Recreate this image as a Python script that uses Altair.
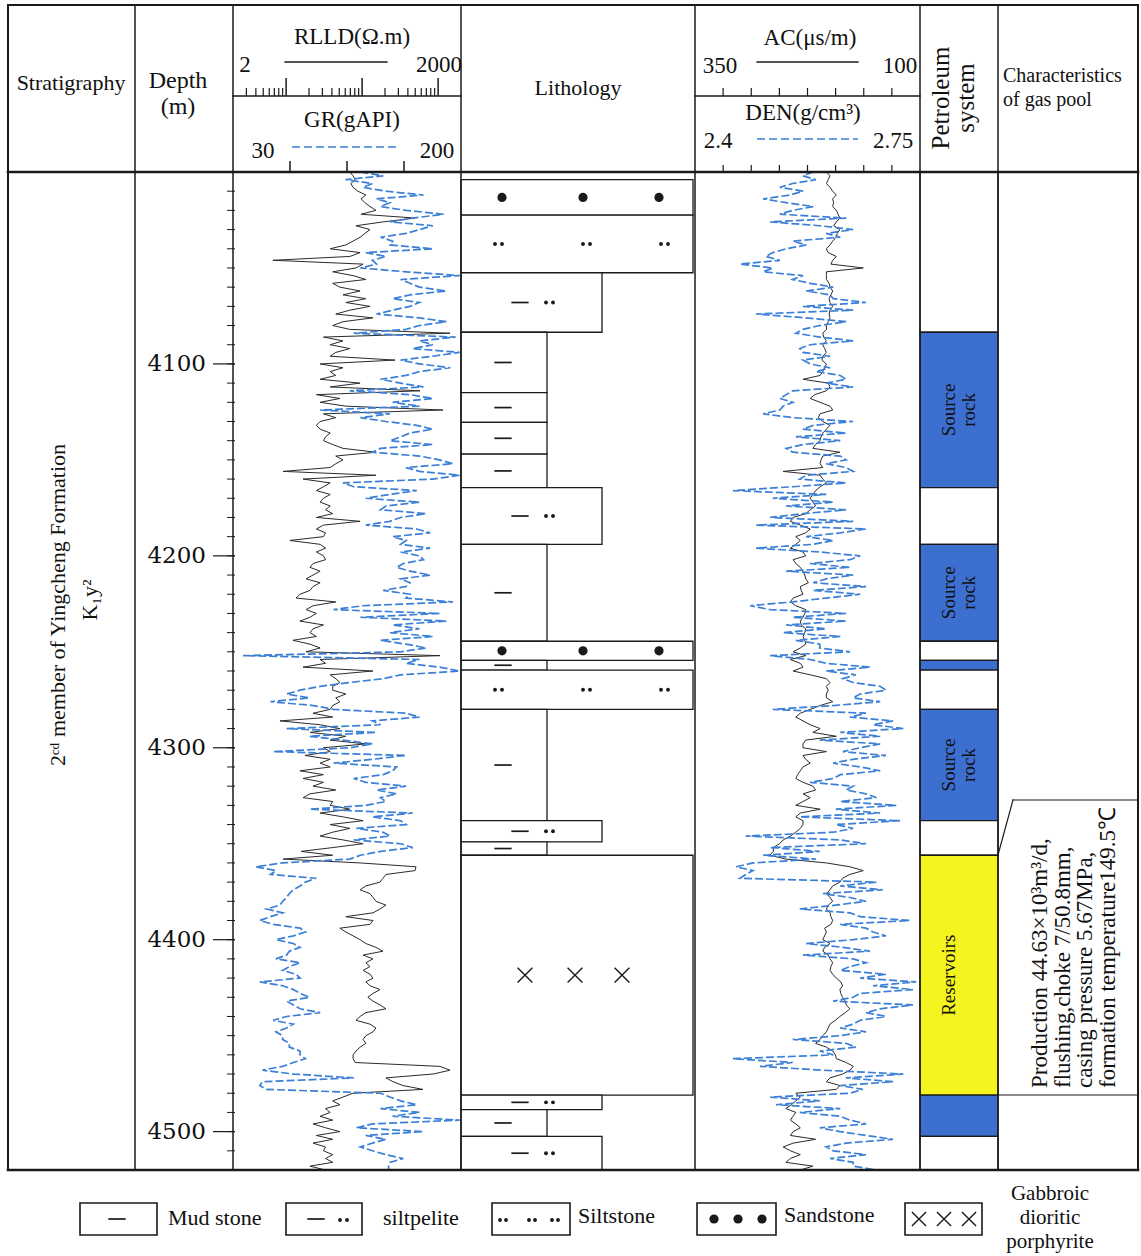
import altair as alt
import pandas as pd

SERIF = "Liberation Serif"

# ---------------- data ----------------
depth = list(range(4000, 4522, 2))  # sample depths (m)

rlld = [69, 76, 81, 71, 76, 88, 112, 97, 109, 127,
        152, 97, 497, 188, 83, 127, 109, 94, 76, 61,
        38, 94, 69, 6.7, 103, 83, 41, 76, 112, 41,
        51, 94, 56, 112, 61, 127, 69, 45, 139, 56,
        41, 69, 1432, 31, 56, 38, 69, 45, 38, 271,
        28, 56, 38, 45, 28, 94, 38, 578, 25, 51,
        28, 61, 1159, 31, 45, 28, 25, 28, 38, 33,
        31, 41, 56, 152, 45, 56, 45, 38, 9.1, 152,
        16.7, 38, 31, 25, 38, 31, 28, 38, 33, 41,
        25, 94, 31, 25, 33, 31, 11.2, 28, 33, 25,
        31, 33, 22.6, 20.6, 28, 22.6, 18.3, 28, 22.6, 20.6,
        15.2, 13.5, 45, 22.6, 18.3, 25, 20.6, 15.2, 31, 22.6,
        20.6, 25, 12.3, 20.6, 28, 18.3, 1059, 28, 33, 16.7,
        139, 38, 45, 51, 41, 41, 61, 45, 51, 41,
        38, 22.6, 41, 8.3, 28, 51, 20.6, 61, 38, 112,
        31, 38, 17.7, 38, 28, 38, 15.2, 31, 16.7, 31,
        22.6, 45, 20.6, 16.7, 41, 38, 69, 28, 56, 103,
        38, 69, 41, 28, 56, 103, 41, 15.7, 41, 9.1,
        94, 512, 497, 206, 188, 172, 112, 94, 127, 139,
        152, 206, 172, 139, 61, 139, 127, 51, 61, 76,
        94, 112, 152, 188, 103, 139, 112, 127, 103, 127,
        139, 112, 127, 172, 139, 119, 139, 172, 206, 112,
        94, 83, 127, 152, 139, 112, 103, 112, 94, 83,
        76, 76, 81, 1059, 1432, 857, 206, 255, 345, 632,
        76, 56, 41, 51, 33, 38, 28, 41, 22.6, 33,
        51, 25, 41, 22.6, 33, 31, 41, 33, 41, 20.6, 33]

gr = [125, 142, 114, 134, 127, 144, 172, 137, 147, 140,
      159, 187, 164, 147, 179, 169, 159, 140, 149, 147,
      179, 129, 144, 134, 137, 125, 159, 199, 155, 162,
      169, 189, 162, 149, 169, 162, 149, 137, 169, 189,
      169, 159, 120, 196, 169, 179, 164, 199, 179, 155,
      169, 192, 169, 159, 140, 155, 172, 117, 162, 179,
      149, 169, 95, 147, 125, 144, 167, 179, 162, 155,
      147, 179, 140, 134, 169, 184, 194, 159, 169, 199,
      179, 112, 120, 167, 147, 129, 169, 144, 140, 174,
      155, 147, 129, 167, 177, 149, 159, 155, 177, 155,
      169, 172, 157, 152, 162, 177, 155, 162, 159, 142,
      162, 159, 194, 127, 105, 184, 125, 189, 149, 169,
      147, 179, 140, 159, 174, 155, 37.5, 169, 159, 184,
      199, 155, 142, 117, 95, 80, 70, 87, 58, 90,
      105, 159, 169, 134, 140, 70, 137, 87, 112, 134,
      117, 60, 159, 134, 105, 152, 149, 142, 120, 129,
      159, 137, 152, 140, 144, 129, 87, 164, 134, 155,
      159, 122, 142, 147, 120, 155, 164, 140, 125, 117,
      67, 47, 62, 58, 92, 84, 80, 75, 72, 70,
      67, 65, 55, 67, 58, 50, 60, 80, 84, 75,
      62, 75, 80, 72, 70, 62, 80, 72, 67, 77,
      80, 50, 67, 75, 80, 87, 70, 75, 80, 95,
      70, 60, 75, 70, 62, 67, 67, 72, 72, 80,
      80, 84, 75, 67, 52, 75, 120, 52, 50, 55,
      140, 147, 155, 167, 140, 169, 149, 199, 134, 122,
      172, 129, 144, 134, 125, 134, 144, 157, 147, 146, 146]

ac = [204, 200, 202, 204, 200, 197, 193, 197, 196, 197,
      193, 191, 189, 193, 196, 189, 192, 193, 197, 200,
      204, 202, 193, 197, 199, 163, 204, 204, 204, 201,
      200, 197, 199, 201, 200, 197, 200, 201, 200, 202,
      204, 204, 208, 207, 204, 208, 206, 204, 208, 209,
      204, 206, 208, 211, 230, 202, 200, 204, 217, 222,
      211, 200, 197, 211, 213, 208, 200, 204, 208, 210,
      211, 216, 219, 189, 208, 210, 211, 208, 252, 211,
      208, 204, 211, 216, 219, 222, 219, 216, 222, 227,
      241, 244, 233, 222, 227, 238, 233, 238, 244, 230,
      227, 241, 238, 233, 230, 228, 227, 224, 233, 232,
      230, 241, 244, 238, 227, 228, 230, 233, 232, 227,
      228, 230, 228, 227, 233, 241, 227, 244, 233, 230,
      241, 222, 204, 200, 204, 202, 204, 204, 197, 211,
      222, 233, 238, 230, 222, 211, 219, 193, 227, 230,
      230, 204, 230, 227, 222, 230, 233, 236, 238, 230,
      219, 216, 230, 222, 230, 238, 211, 233, 238, 230,
      230, 233, 238, 244, 252, 256, 263, 263, 267, 249,
      204, 178, 163, 178, 186, 189, 197, 200, 204, 200,
      197, 202, 204, 200, 199, 197, 199, 206, 204, 206,
      208, 200, 206, 208, 202, 200, 197, 199, 200, 197,
      193, 188, 186, 189, 188, 186, 183, 182, 178, 183,
      189, 194, 200, 202, 204, 208, 211, 216, 204, 197,
      194, 193, 182, 174, 178, 186, 200, 204, 189, 193,
      238, 233, 238, 243, 249, 238, 241, 244, 238, 233,
      241, 244, 216, 241, 252, 244, 233, 244, 249, 219, 233]

den = [2.584, 2.568, 2.588, 2.552, 2.532, 2.568, 2.548, 2.506, 2.542, 2.584,
       2.552, 2.532, 2.635, 2.517, 2.594, 2.646, 2.604, 2.626, 2.552, 2.573,
       2.542, 2.521, 2.510, 2.532, 2.470, 2.521, 2.506, 2.568, 2.552, 2.579,
       2.615, 2.573, 2.610, 2.615, 2.666, 2.568, 2.646, 2.495, 2.573, 2.635,
       2.594, 2.568, 2.557, 2.594, 2.646, 2.579, 2.563, 2.568, 2.610, 2.568,
       2.579, 2.610, 2.588, 2.626, 2.635, 2.604, 2.646, 2.552, 2.542, 2.532,
       2.552, 2.537, 2.532, 2.506, 2.552, 2.646, 2.584, 2.568, 2.635, 2.557,
       2.626, 2.568, 2.542, 2.552, 2.626, 2.635, 2.604, 2.635, 2.646, 2.573,
       2.563, 2.635, 2.552, 2.459, 2.604, 2.521, 2.615, 2.542, 2.635, 2.568,
       2.517, 2.646, 2.495, 2.666, 2.626, 2.573, 2.615, 2.584, 2.495, 2.594,
       2.657, 2.641, 2.579, 2.641, 2.542, 2.646, 2.604, 2.584, 2.666, 2.584,
       2.657, 2.604, 2.552, 2.486, 2.517, 2.635, 2.552, 2.635, 2.542, 2.604,
       2.537, 2.626, 2.557, 2.594, 2.594, 2.641, 2.517, 2.579, 2.604, 2.672,
       2.604, 2.650, 2.630, 2.646, 2.688, 2.697, 2.657, 2.646, 2.688, 2.615,
       2.521, 2.666, 2.641, 2.708, 2.677, 2.724, 2.626, 2.688, 2.594, 2.688,
       2.657, 2.630, 2.697, 2.646, 2.615, 2.657, 2.688, 2.626, 2.615, 2.579,
       2.646, 2.635, 2.666, 2.682, 2.626, 2.713, 2.619, 2.688, 2.563, 2.719,
       2.619, 2.646, 2.615, 2.479, 2.626, 2.666, 2.517, 2.594, 2.506, 2.588,
       2.490, 2.464, 2.490, 2.479, 2.470, 2.682, 2.626, 2.692, 2.599, 2.641,
       2.666, 2.619, 2.563, 2.641, 2.657, 2.734, 2.626, 2.666, 2.677, 2.697,
       2.646, 2.573, 2.630, 2.672, 2.568, 2.646, 2.666, 2.641, 2.626, 2.697,
       2.657, 2.744, 2.677, 2.739, 2.657, 2.646, 2.615, 2.739, 2.688, 2.666,
       2.697, 2.657, 2.646, 2.626, 2.666, 2.626, 2.552, 2.635, 2.650, 2.594,
       2.615, 2.459, 2.552, 2.501, 2.599, 2.724, 2.635, 2.708, 2.626, 2.661,
       2.641, 2.517, 2.594, 2.526, 2.626, 2.563, 2.626, 2.641, 2.666, 2.594,
       2.626, 2.666, 2.708, 2.635, 2.604, 2.615, 2.666, 2.610, 2.646, 2.646, 2.682]

assert len(rlld) == len(gr) == len(ac) == len(den) == len(depth), (len(rlld), len(gr), len(ac), len(den))

# lithology column
lith_top = [4004.0, 4022.5, 4052.5, 4083.5, 4115.0, 4130.5, 4147.0, 4164.5, 4194.0, 4244.5,
            4254.5, 4259.5, 4280.0, 4338.0, 4349.0, 4356.0, 4481.0, 4488.5, 4502.5]
lith_base = [4022.5, 4052.5, 4083.5, 4115.0, 4130.5, 4147.0, 4164.5, 4194.0, 4244.5, 4254.5,
             4259.5, 4280.0, 4338.0, 4349.0, 4356.0, 4481.0, 4488.5, 4502.5, 4520.0]
lith_type = ["sandstone", "siltstone", "siltpelite", "mudstone", "mudstone", "mudstone", "mudstone",
             "siltpelite", "mudstone", "sandstone", "mudstone", "siltstone", "mudstone", "siltpelite",
             "mudstone", "gabbro", "siltpelite", "mudstone", "siltpelite"]

# petroleum system column
ps_top = [4000.0, 4083.5, 4164.5, 4194.0, 4244.5, 4254.5, 4259.5, 4280.0, 4338.0, 4356.0, 4481.0, 4502.5]
ps_base = [4083.5, 4164.5, 4194.0, 4244.5, 4254.5, 4259.5, 4280.0, 4338.0, 4356.0, 4481.0, 4502.5, 4520.0]
ps_type = ["none", "source", "none", "source", "none", "source", "none", "source", "none",
           "reservoir", "source", "none"]
ps_label = ["", "Source\nrock", "", "Source\nrock", "", "", "", "Source\nrock", "", "Reservoirs", "", ""]

depth_major = [4100, 4200, 4300, 4400, 4500]
depth_minor = list(range(4010, 4520, 10))

rlld_ticks_minor = [3, 4, 5, 6, 7, 8, 9, 20, 30, 40, 50, 60, 70, 80, 90,
                    200, 300, 400, 500, 600, 700, 800, 900]
rlld_ticks_major = [10, 100, 1000]
gr_ticks = [72.5, 115, 157.5]
ac_ticks = [318.75, 287.5, 256.25, 225, 193.75, 162.5, 131.25]
den_ticks = [2.44375, 2.4875, 2.53125, 2.575, 2.61875, 2.6625, 2.70625]

# ---------------- styles / layout ----------------
INK = "#1a1a1a"
CURVE_BLACK = "#2b2b2b"
CURVE_BLUE = "#3b7fd6"
SRC_BLUE = "#3d6fd1"
RES_YELLOW = "#f4f41e"
Y_TOP, Y_BOT = 172, 1170

ysc = alt.Scale(domain=[4000, 4520], range=[Y_TOP, Y_BOT], nice=False, zero=False)
rlld_sc = alt.Scale(type="log", domain=[2, 2000], range=[233, 461], nice=False)
gr_sc = alt.Scale(domain=[30, 200], range=[233, 461], nice=False, zero=False)
ac_sc = alt.Scale(domain=[350, 100], range=[695, 920], nice=False, zero=False)
den_sc = alt.Scale(domain=[2.4, 2.75], range=[695, 920], nice=False, zero=False)
lith_sc = alt.Scale(domain=[0, 234], range=[461, 695], nice=False, zero=False)

LITH_WIDTH = {"sandstone": 232, "siltstone": 232, "gabbro": 232, "siltpelite": 141, "mudstone": 86}
LITH_SYM = {
    "mudstone": [("dash", 42)],
    "siltpelite": [("dash", 59), ("dot", 85), ("dot", 92)],
    "siltstone": [("dot", 34), ("dot", 41), ("dot", 122), ("dot", 129), ("dot", 200), ("dot", 207)],
    "sandstone": [("bigdot", 41), ("bigdot", 122), ("bigdot", 198)],
    "gabbro": [("cross", 64), ("cross", 114), ("cross", 161)],
}
DASH_PATH = "M-1,0L1,0"
CROSS_PATH = "M-1,-1L1,1M-1,1L1,-1"

layers = []

# ---------------- log curves ----------------
logs = pd.DataFrame({"depth": depth, "rlld": rlld, "gr": gr, "ac": ac, "den": den})


def curve(field, sc, color, width, dash=None):
    kw = dict(color=color, strokeWidth=width)
    if dash:
        kw["strokeDash"] = dash
    return alt.Chart(logs).mark_line(**kw).encode(
        x=alt.X(f"{field}:Q", scale=sc, axis=None),
        y=alt.Y("depth:Q", scale=ysc, axis=None),
        order=alt.Order("depth:Q"),
    )


layers.append(curve("rlld", rlld_sc, CURVE_BLACK, 1.0))
layers.append(curve("gr", gr_sc, CURVE_BLUE, 1.7, [8, 3]))
layers.append(curve("ac", ac_sc, CURVE_BLACK, 1.0))
layers.append(curve("den", den_sc, CURVE_BLUE, 1.7, [8, 3]))

# ---------------- lithology ----------------
lith = pd.DataFrame({"top": lith_top, "base": lith_base, "type": lith_type})
lith["x0"] = 0
lith["x1"] = lith["type"].map(LITH_WIDTH)
layers.append(
    alt.Chart(lith).mark_rect(fill="white", stroke=INK, strokeWidth=1.3).encode(
        x=alt.X("x0:Q", scale=lith_sc, axis=None), x2="x1:Q",
        y=alt.Y("top:Q", scale=ysc, axis=None), y2="base:Q")
)
sym_rows = []
for t, b, k in zip(lith_top, lith_base, lith_type):
    for s, off in LITH_SYM[k]:
        sym_rows.append({"mid": (t + b) / 2, "off": off, "sym": s})
sym = pd.DataFrame(sym_rows)


def sym_layer(kind, **mk):
    return alt.Chart(sym[sym["sym"] == kind]).mark_point(opacity=1, **mk).encode(
        x=alt.X("off:Q", scale=lith_sc, axis=None),
        y=alt.Y("mid:Q", scale=ysc, axis=None))


layers.append(sym_layer("dash", shape=DASH_PATH, filled=False, stroke=INK, strokeWidth=1.7, size=300))
layers.append(sym_layer("dot", shape="circle", filled=True, fill=INK, strokeWidth=0, size=15))
layers.append(sym_layer("bigdot", shape="circle", filled=True, fill=INK, strokeWidth=0, size=85))
layers.append(sym_layer("cross", shape=CROSS_PATH, filled=False, stroke=INK, strokeWidth=1.4, size=220))

# ---------------- petroleum system ----------------
ps = pd.DataFrame({"top": ps_top, "base": ps_base, "type": ps_type, "label": ps_label})
ps["mid"] = (ps["top"] + ps["base"]) / 2
layers.append(
    alt.Chart(ps).mark_rect(stroke=INK, strokeWidth=1.3).encode(
        x=alt.value(920), x2=alt.value(998),
        y=alt.Y("top:Q", scale=ysc, axis=None), y2="base:Q",
        fill=alt.Fill("type:N", scale=alt.Scale(domain=["none", "source", "reservoir"],
                                                range=["white", SRC_BLUE, RES_YELLOW]), legend=None))
)
layers.append(
    alt.Chart(ps[ps["label"] != ""]).mark_text(angle=270, lineBreak="\n", fontSize=19, lineHeight=20,
                                               font=SERIF, color="#111", align="center",
                                               baseline="middle").encode(
        x=alt.value(949), y=alt.Y("mid:Q", scale=ysc, axis=None), text="label:N")
)

# ---------------- depth scale ----------------
layers.append(
    alt.Chart(pd.DataFrame({"d": depth_minor})).mark_rule(color=INK, strokeWidth=1).encode(
        y=alt.Y("d:Q", scale=ysc, axis=None), x=alt.value(227), x2=alt.value(235))
)
layers.append(
    alt.Chart(pd.DataFrame({"d": depth_major})).mark_rule(color=INK, strokeWidth=1.2).encode(
        y=alt.Y("d:Q", scale=ysc, axis=None), x=alt.value(213), x2=alt.value(235))
)
layers.append(
    alt.Chart(pd.DataFrame({"d": depth_major, "lab": [str(v) for v in depth_major]})).mark_text(
        align="right", baseline="middle", fontSize=23, font="DejaVu Serif", color="#111").encode(
        y=alt.Y("d:Q", scale=ysc, axis=None), x=alt.value(206), text="lab:N")
)

# ---------------- header scale ticks ----------------
def tick_layer(vals, sc, y1, y2, w=1.2):
    return alt.Chart(pd.DataFrame({"v": vals})).mark_rule(color=INK, strokeWidth=w).encode(
        x=alt.X("v:Q", scale=sc, axis=None), y=alt.value(y1), y2=alt.value(y2))


layers.append(tick_layer(rlld_ticks_minor, rlld_sc, 88, 96))
layers.append(tick_layer(rlld_ticks_major, rlld_sc, 78, 96, 1.5))
layers.append(tick_layer(gr_ticks, gr_sc, 161, 172, 1.5))
layers.append(tick_layer(ac_ticks, ac_sc, 88, 96))
layers.append(tick_layer(den_ticks, den_sc, 165, 172))

# ---------------- frame lines ----------------
frame_rows = []
for xv in [8, 135, 233, 461, 695, 920, 998, 1138]:
    frame_rows.append((xv, 5, xv, 1170, 2.0 if xv in (8, 1138) else 1.5))
frame_rows += [
    (8, 5, 1138, 5, 2.0),
    (8, 172, 1138, 172, 2.6),
    (8, 1170, 1138, 1170, 2.6),
    (233, 96, 461, 96, 1.5),
    (695, 96, 920, 96, 1.5),
    (998, 855, 1013, 800, 1.2),
    (1013, 800, 1138, 800, 1.2),
    (998, 1095, 1138, 1095, 1.2),
    (285, 62, 387, 62, 1.3),
    (757, 62, 858, 62, 1.3),
]
frame = pd.DataFrame(frame_rows, columns=["x1", "y1", "x2", "y2", "w"])
layers.append(
    alt.Chart(frame).mark_rule(color=INK, strokeCap="square").encode(
        x=alt.X("x1:Q", scale=None, axis=None), x2="x2:Q",
        y=alt.Y("y1:Q", scale=None, axis=None), y2="y2:Q",
        strokeWidth=alt.StrokeWidth("w:Q", scale=None))
)
dashed = pd.DataFrame([(292, 147, 398, 147), (757, 139, 858, 139)], columns=["x1", "y1", "x2", "y2"])
layers.append(
    alt.Chart(dashed).mark_rule(color=CURVE_BLUE, strokeWidth=1.6, strokeDash=[8, 4]).encode(
        x=alt.X("x1:Q", scale=None, axis=None), x2="x2:Q",
        y=alt.Y("y1:Q", scale=None, axis=None), y2="y2:Q")
)

# ---------------- texts ----------------
def txt(s, x, y, size=20, align="center", angle=0, lh=None, font=SERIF):
    kw = dict(align=align, baseline="middle", fontSize=size, font=font, color="#111")
    if angle:
        kw["angle"] = angle
    if "\n" in s:
        kw["lineBreak"] = "\n"
        if lh:
            kw["lineHeight"] = lh
    return alt.Chart(pd.DataFrame({"t": [s]})).mark_text(**kw).encode(
        x=alt.value(x), y=alt.value(y), text="t:N")


layers += [
    txt("Stratigraphy", 71, 83, 22),
    txt("Depth", 178, 81, 24),
    txt("(m)", 178, 107, 24),
    txt("RLLD(Ω.m)", 352, 37, 23),
    txt("2", 245, 65, 23),
    txt("2000", 462, 65, 23, align="right"),
    txt("GR(gAPI)", 352, 120, 23),
    txt("30", 263, 151, 23),
    txt("200", 437, 151, 23),
    txt("Lithology", 578, 88, 22),
    txt("AC(μs/m)", 810, 38, 23),
    txt("350", 720, 66, 23),
    txt("100", 900, 66, 23),
    txt("DEN(g/cm³)", 803, 113, 23),
    txt("2.4", 718, 141, 23),
    txt("2.75", 893, 141, 23),
    txt("Petroleum\nsystem", 941, 98, 25, angle=270, lh=25),
    txt("Characteristics", 1003, 76, 20, align="left"),
    txt("of gas pool", 1003, 100, 20, align="left"),
    txt("2ᶜᵈ member of Yingcheng Formation", 58, 605, 22, angle=270),
    txt("K₁y²", 90, 600, 22, angle=270),
    txt("Production 44.63×10³m³/d,\nflushing,choke 7/50.8mm,\ncasing pressure 5.67MPa,\n"
        "formation temperature149.5℃", 1040, 1088, 23, align="left", angle=270, lh=22.5),
    txt("Mud stone", 168, 1218, 22, align="left"),
    txt("siltpelite", 383, 1218, 22, align="left"),
    txt("Siltstone", 578, 1216, 22, align="left"),
    txt("Sandstone", 784, 1215, 22, align="left"),
    txt("Gabbroic\ndioritic\nporphyrite", 1050, 1194, 21, lh=24),
]

# ---------------- legend ----------------
leg_boxes = pd.DataFrame([(80, 1203, 157, 1235), (286, 1203, 362, 1235), (492, 1203, 570, 1235),
                          (697, 1203, 776, 1235), (905, 1203, 982, 1235)],
                         columns=["x1", "y1", "x2", "y2"])
layers.append(
    alt.Chart(leg_boxes).mark_rect(fill="white", stroke=INK, strokeWidth=1.6).encode(
        x=alt.X("x1:Q", scale=None, axis=None), x2="x2:Q",
        y=alt.Y("y1:Q", scale=None, axis=None), y2="y2:Q")
)


def leg_sym(pts, **mk):
    d = pd.DataFrame(pts, columns=["x", "y"])
    return alt.Chart(d).mark_point(opacity=1, **mk).encode(
        x=alt.X("x:Q", scale=None, axis=None), y=alt.Y("y:Q", scale=None, axis=None))


layers.append(leg_sym([(117, 1219), (316, 1219)], shape=DASH_PATH, filled=False, stroke=INK,
                      strokeWidth=1.7, size=300))
layers.append(leg_sym([(340, 1220), (347, 1220), (500, 1220), (506, 1220), (529, 1220), (535, 1220),
                       (552, 1220), (558, 1220)], shape="circle", filled=True, fill=INK,
                      strokeWidth=0, size=15))
layers.append(leg_sym([(714, 1219), (738, 1219), (762, 1219)], shape="circle", filled=True, fill=INK,
                      strokeWidth=0, size=85))
layers.append(leg_sym([(919, 1219), (944, 1219), (969, 1219)], shape=CROSS_PATH, filled=False,
                      stroke=INK, strokeWidth=1.4, size=200))

chart = alt.layer(*layers).resolve_scale(
    x="independent", y="independent", fill="independent"
).properties(
    width=1141, height=1256, padding=0,
    autosize=alt.AutoSizeParams(type="none"), background="white"
).configure_view(stroke=None)

chart.save("out.html", embed_options={"renderer": "svg", "actions": False})
